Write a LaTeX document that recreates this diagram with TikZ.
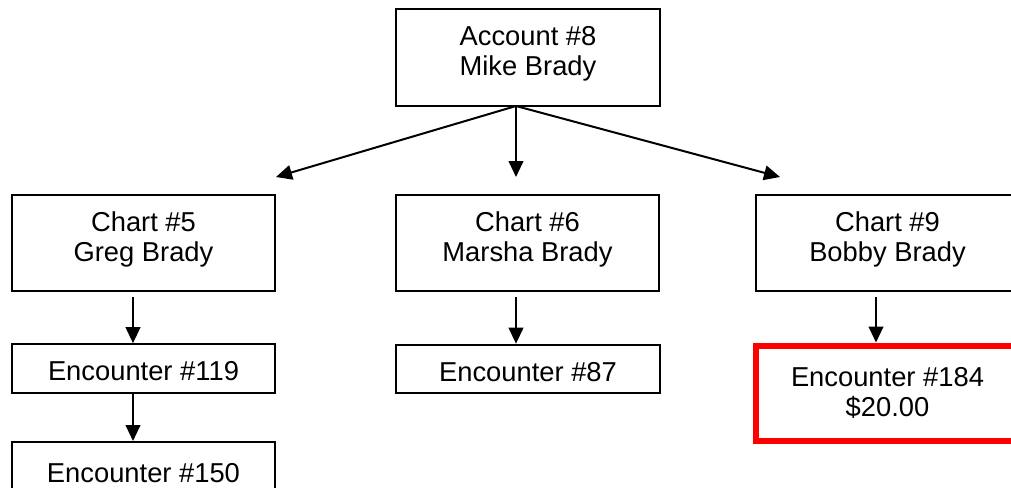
\documentclass[tikz,border=0pt]{standalone}
\usepackage{fontspec}
\setmainfont{Liberation Sans}
\usetikzlibrary{arrows.meta,calc}
\begin{document}
\begin{tikzpicture}[x=0.75pt,y=-0.75pt,
  box/.style={draw=black,line width=1.5pt,rectangle,inner sep=0pt,minimum width=197.5pt},
  tall/.style={box,minimum height=72pt},
  short/.style={box,minimum height=36.5pt},
  redbox/.style={box,draw=red,line width=4.5pt,minimum height=71.6pt},
  lbl/.style={inner sep=0pt,align=center,font=\fontsize{20.5pt}{22.5pt}\selectfont},
  arr/.style={line width=1.5pt,-{Triangle[length=12pt,width=11pt]}}]
\useasboundingbox (0,0) rectangle (1011,487);
\clip (0,0) rectangle (1011,487);
\fill[white] (0,0) rectangle (1011,487);
\node[tall,minimum width=198pt,minimum height=72.4pt] (acc) at (528,57.75) {};
\node[tall] (c5) at (143.5,243) {};
\node[tall] (c6) at (527.5,243) {};
\node[tall] (c9) at (887.5,243) {};
\node[short] (e119) at (143.5,368.5) {};
\node[short] (e87) at (528,369) {};
\node[redbox] (e184) at (887.5,393.25) {};
\node[box,minimum height=42pt] (e150) at (143.5,470) {};
\node[lbl] (acct) at ($(acc)+(0,-3.5)$) {Account \#8\\Mike Brady};
\node[lbl] (c5t) at ($(c5)+(0,-3.5)$) {Chart \#5\\Greg Brady};
\node[lbl] (c6t) at ($(c6)+(0,-3.5)$) {Chart \#6\\Marsha Brady};
\node[lbl] (c9t) at ($(c9)+(0,-3.5)$) {Chart \#9\\Bobby Brady};
\node[lbl] (e119t) at ($(e119)+(0,3)$) {Encounter \#119};
\node[lbl] (e87t) at ($(e87)+(0,3)$) {Encounter \#87};
\node[lbl] (e184t) at ($(e184)+(0,-0.5)$) {Encounter \#184\\\$20.00};
\node[lbl] (e150t) at ($(e150)+(0,3)$) {Encounter \#150};
\coordinate (accs) at (516,106);
\coordinate (t5) at (276,177);
\coordinate (t6) at (516,177);
\coordinate (t9) at (780,177);
\draw[arr] (accs) -- (t5);
\draw[arr] (accs) -- (t6);
\draw[arr] (accs) -- (t9);
\draw[arr] ($(c5.south)+(-10.5,5)$) -- ($(e119.north)+(-10.5,0)$);
\draw[arr] ($(e119.south)+(-10.5,0)$) -- ($(e150.north)+(-10.5,0)$);
\draw[arr] ($(c6.south)+(-11.5,5)$) -- ($(e87.north)+(-12,0)$);
\draw[arr] ($(c9.south)+(-11.5,5)$) -- ($(e184.north)+(-11.5,0)$);
\end{tikzpicture}
\end{document}
